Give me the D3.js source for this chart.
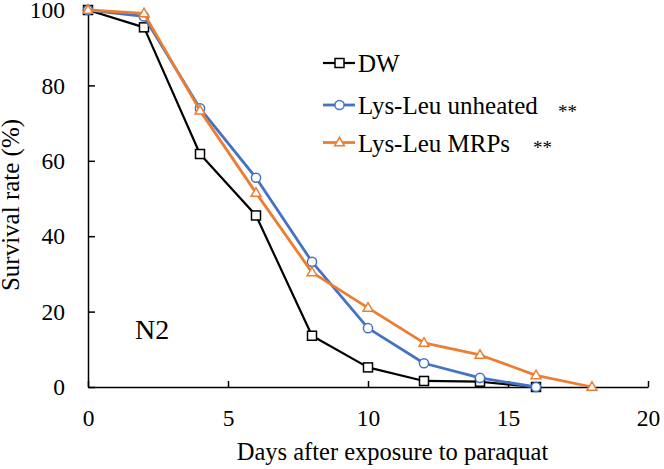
<!DOCTYPE html>
<html><head><meta charset="utf-8">
<script src="https://cdn.jsdelivr.net/npm/d3@7"></script>
<style>body{margin:0;background:#fff}text{font-family:"Liberation Serif","Times New Roman",serif;fill:#000}</style>
</head><body><svg id="c" width="664" height="469"></svg>
<script>
const days = [0,2,4,6,8,10,12,14,16,18];
const dwValues = [100,95.4,61.8,45.5,13.6,5.2,1.6,1.4,0];
const unheatedValues = [100,98.3,73.9,55.5,33.2,15.6,6.3,2.4,0];
const mrpValues = [100,99.1,73.3,51.5,30.4,21,11.7,8.5,3.1,0];
const xTicks = [0,5,10,15,20];
const yTicks = [0,20,40,60,80,100];
const seriesNames = ["DW","Lys-Leu unheated","Lys-Leu MRPs"];
const seriesMarks = ["","**","**"];

const svg = d3.select("#c");
const x = d3.scaleLinear().domain([0,20]).range([88,648]);
const y = d3.scaleLinear().domain([0,100]).range([387,10]);

const series = [
  {name:seriesNames[0], vals:dwValues, color:"#000000", shape:"square", w:2.2},
  {name:seriesNames[1], vals:unheatedValues, color:"#4472C4", shape:"circle", w:2.8},
  {name:seriesNames[2], vals:mrpValues, color:"#ED7D31", shape:"triangle", w:2.8}
];

// axes
const xAxis = svg.append("g").attr("transform","translate(0,"+y(0)+")")
  .call(d3.axisBottom(x).tickValues(xTicks).tickSize(-6).tickPadding(22).tickSizeOuter(0));
const yAxis = svg.append("g").attr("transform","translate("+x(0)+",0)")
  .call(d3.axisLeft(y).tickValues(yTicks).tickSize(-7).tickPadding(23).tickSizeOuter(0));
[xAxis,yAxis].forEach(a=>{
  a.selectAll("path,line").attr("stroke","#000").attr("stroke-width",1.5);
  a.selectAll("text").style("font-family","Liberation Serif").style("font-size","23.5px").attr("fill","#000");
});
xAxis.selectAll("text").attr("dy","0.71em");
yAxis.selectAll("text").attr("dy","0.33em");

function marker(g, shape, color, cx, cy){
  if(shape==="square") g.append("rect").attr("x",cx-4.5).attr("y",cy-4.5).attr("width",9).attr("height",9)
     .attr("fill","#fff").attr("stroke",color).attr("stroke-width",1.5);
  else if(shape==="circle") g.append("circle").attr("cx",cx).attr("cy",cy).attr("r",4.6)
     .attr("fill","#fff").attr("stroke",color).attr("stroke-width",1.5);
  else g.append("path").attr("d",d3.symbol().type(d3.symbolTriangle).size(42)()).attr("transform","translate("+cx+","+(cy+0.5)+")")
     .attr("fill","#fff").attr("stroke",color).attr("stroke-width",1.5);
}

const line = d3.line().x((d,i)=>x(days[i])).y(d=>y(d));
series.forEach(s=>{
  svg.append("path").attr("d",line(s.vals)).attr("fill","none").attr("stroke",s.color).attr("stroke-width",s.w).attr("stroke-linejoin","round");
  const g = svg.append("g");
  s.vals.forEach((v,i)=>marker(g,s.shape,s.color,x(days[i]),y(v)));
});

// legend
const legY = [63,105,142.5];
series.forEach((s,i)=>{
  const g = svg.append("g");
  g.append("line").attr("x1",323).attr("x2",355).attr("y1",legY[i]).attr("y2",legY[i]).attr("stroke",s.color).attr("stroke-width",s.w);
  marker(g,s.shape,s.color,339.5,legY[i]);
  g.append("text").attr("x",358).attr("y",legY[i]+9).style("font-size","25px").text(s.name);
});
svg.append("text").attr("x",558).attr("y",118).style("font-size","19px").text(seriesMarks[1]);
svg.append("text").attr("x",533).attr("y",154).style("font-size","19px").text(seriesMarks[2]);

svg.append("text").attr("x",135).attr("y",339).attr("text-anchor","start").style("font-size","28px").text("N2");

svg.append("text").attr("x",392.5).attr("y",460).attr("text-anchor","middle").style("font-size","24.5px").text("Days after exposure to paraquat");
svg.append("text").attr("transform","translate(19,205) rotate(-90)").attr("text-anchor","middle").style("font-size","25px").text("Survival rate (%)");
</script></body></html>
